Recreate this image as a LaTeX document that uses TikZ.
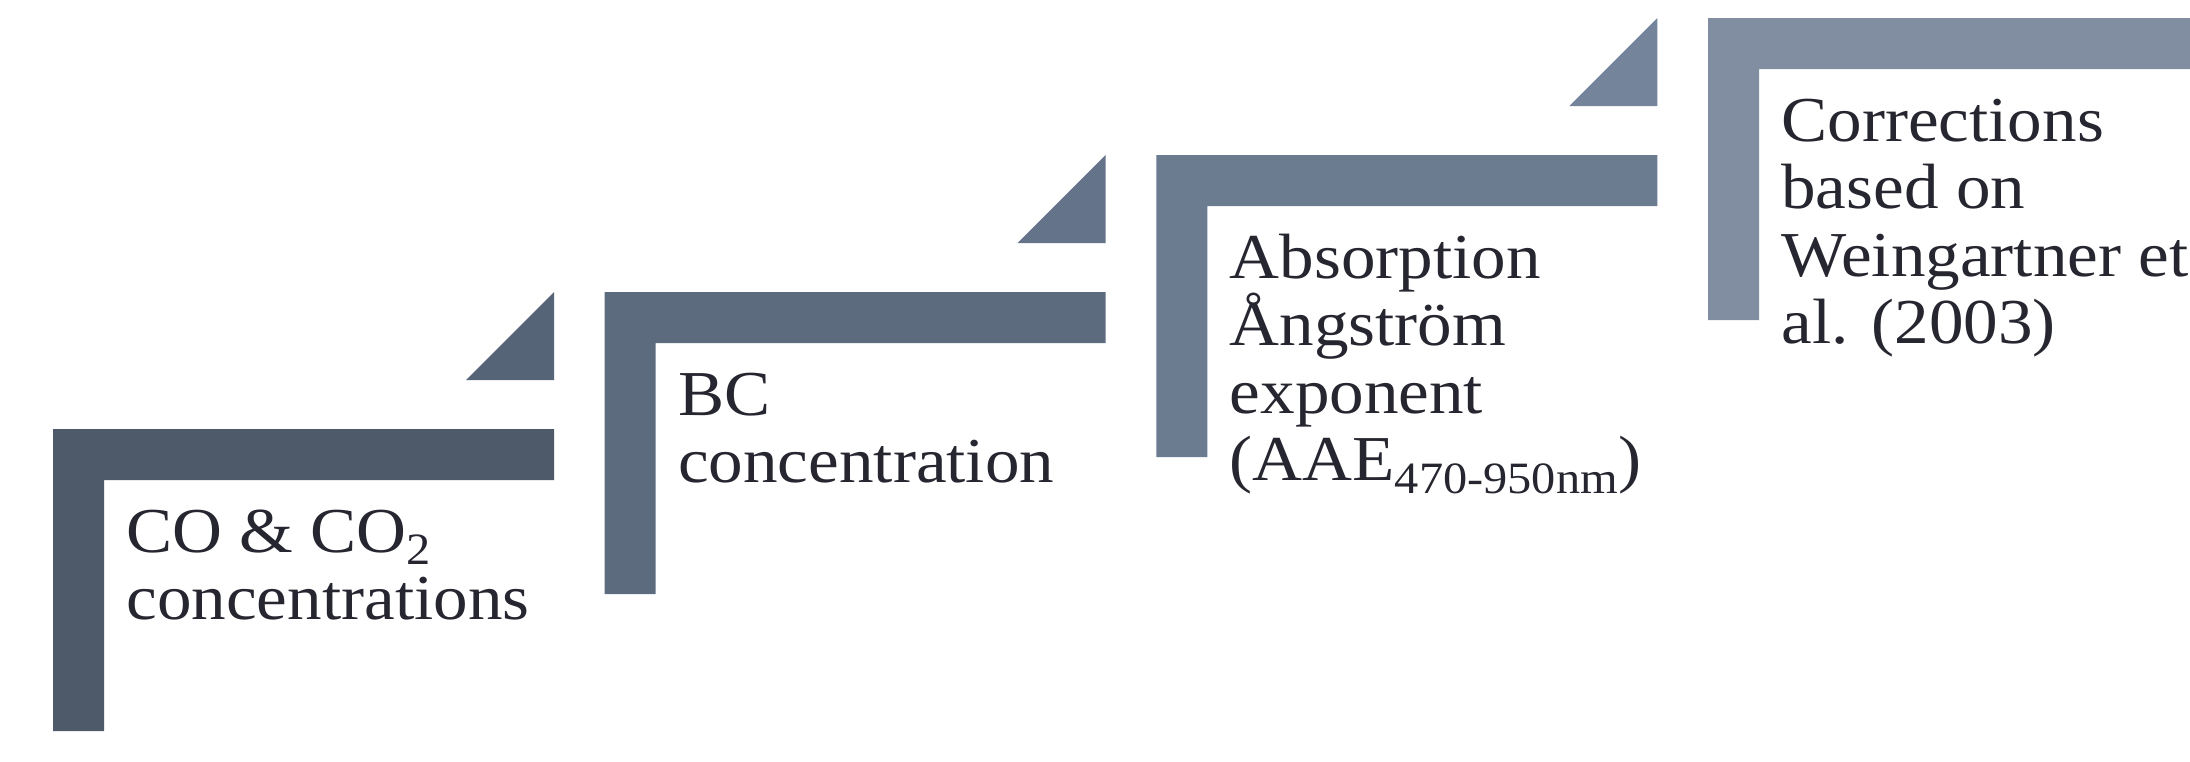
\documentclass[tikz,border=0pt]{standalone}
\usepackage{fontspec}
\setmainfont{Liberation Serif}[FakeStretch=1.08]

\definecolor{stepa}{HTML}{4E5A6A}
\definecolor{stepb}{HTML}{5D6B7E}
\definecolor{stepc}{HTML}{6B7B90}
\definecolor{stepd}{HTML}{818DA0}
\definecolor{tria}{HTML}{566478}
\definecolor{trib}{HTML}{647389}
\definecolor{tric}{HTML}{74849A}
\definecolor{ink}{HTML}{262630}

\begin{document}
\begin{tikzpicture}[x=0.5pt,y=-0.5pt,
    lbl/.style={anchor=base west, inner sep=0pt, text=ink,
                font=\fontsize{32}{33.75}\selectfont}]
\useasboundingbox (0,0) rectangle (2190,761);
\clip (0,0) rectangle (2190,761);

% step 1
\begin{scope} [shift={(53,429)}]
    \fill [stepa] (0,0) -- (501,0) -- (501,51) -- (51,51) -- (51,302) -- (0,302) -- cycle;
    \fill [tria] (413,-49) -- (501,-49) -- (501,-137) -- cycle;
    \node [lbl] (coco) at (73,123) {\parbox[t]{300pt}{CO \& CO\textsubscript{2}\\concentrations}};
\end{scope}

% step 2
\begin{scope} [shift={(604.7,292)}]
    \fill [stepb] (0,0) -- (501,0) -- (501,51) -- (51,51) -- (51,302) -- (0,302) -- cycle;
    \fill [trib] (413,-49) -- (501,-49) -- (501,-137) -- cycle;
    \node [lbl] (bc) at (73,123) {\parbox[t]{300pt}{BC\\concentration}};
\end{scope}

% step 3
\begin{scope} [shift={(1156.4,155)}]
    \fill [stepc] (0,0) -- (501,0) -- (501,51) -- (51,51) -- (51,302) -- (0,302) -- cycle;
    \fill [tric] (413,-49) -- (501,-49) -- (501,-137) -- cycle;
    \node [lbl] (aae) at (73,123) {\parbox[t]{300pt}{Absorption\\Ångström\\exponent\\(AAE\textsubscript{470-950nm})}};
\end{scope}

% step 4
\begin{scope} [shift={(1708,18)}]
    \fill [stepd] (0,0) -- (501,0) -- (501,51) -- (51,51) -- (51,302) -- (0,302) -- cycle;
    \node [lbl] (corr) at (73,123) {\parbox[t]{300pt}{Corrections\\based on\\Weingartner et\\al. (2003)}};
\end{scope}
\end{tikzpicture}
\end{document}
